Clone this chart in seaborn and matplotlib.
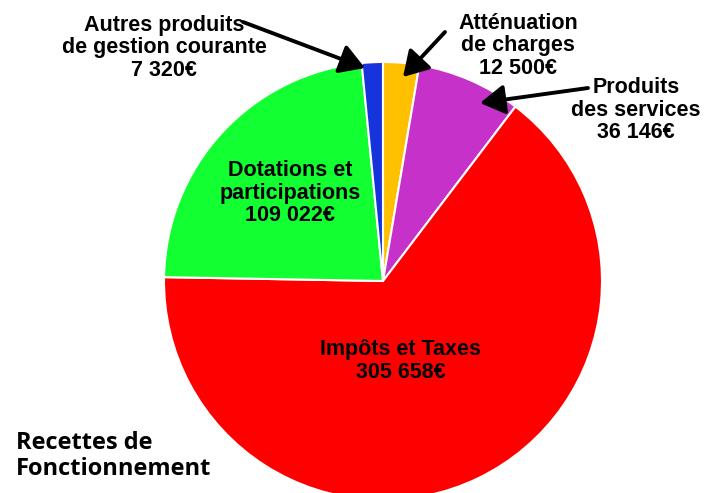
import matplotlib.pyplot as plt
import seaborn as sns

# Data (clockwise from the top)
categories = ['Atténuation\nde charges', 'Produits\ndes services', 'Impôts et Taxes',
              'Dotations et\nparticipations', 'Autres produits\nde gestion courante']
values = [12500, 36146, 305658, 109022, 7320]
value_labels = ['12 500€', '36 146€', '305 658€', '109 022€', '7 320€']
colors = ['#FFC000', '#C531C9', '#FF0000', '#12FF32', '#1733DB']

W, H = 708, 493

sns.set_theme(style='white')
plt.rcParams['font.family'] = ['Liberation Sans', 'DejaVu Sans']

fig = plt.figure(figsize=(W / 100, H / 100), dpi=100)
ax = fig.add_axes([0, 0, 1, 1])

ax.pie(values, colors=colors, startangle=90, counterclock=False,
       center=(383, H - 281), radius=219,
       wedgeprops=dict(edgecolor='white', linewidth=1.5))

ax.set_xlim(0, W)
ax.set_ylim(0, H)
ax.set_aspect('equal')
ax.axis('off')

# label positions (image px: center x, center y) and arrow (tail, tip)
label_pos = [(518, 46), (636, 110), (401, 361), (290, 193), (164, 48)]
arrows = [((445, 32), (403, 77)), ((588, 88), (480, 103)), None, None,
          ((243, 22), (365, 68))]

for cat, vl, (x, y), arr in zip(categories, value_labels, label_pos, arrows):
    ax.text(x, H - y, cat + '\n' + vl, ha='center', va='center',
            fontsize=15.5, fontweight='bold', color='black', linespacing=1.12)
    if arr is not None:
        (x0, y0), (x1, y1) = arr
        ax.annotate('', xy=(x1, H - y1), xytext=(x0, H - y0),
                    arrowprops=dict(arrowstyle='-|>,head_length=0.5,head_width=0.3',
                                    color='black', lw=2.8,
                                    mutation_scale=30, shrinkA=0, shrinkB=0))

ax.text(16, H - 456, 'Recettes de\nFonctionnement', ha='left', va='center',
        fontsize=17, fontweight='bold', family=['Open Sans', 'DejaVu Sans'],
        linespacing=1.12, color='black')

fig.savefig('out.png', dpi=100)
